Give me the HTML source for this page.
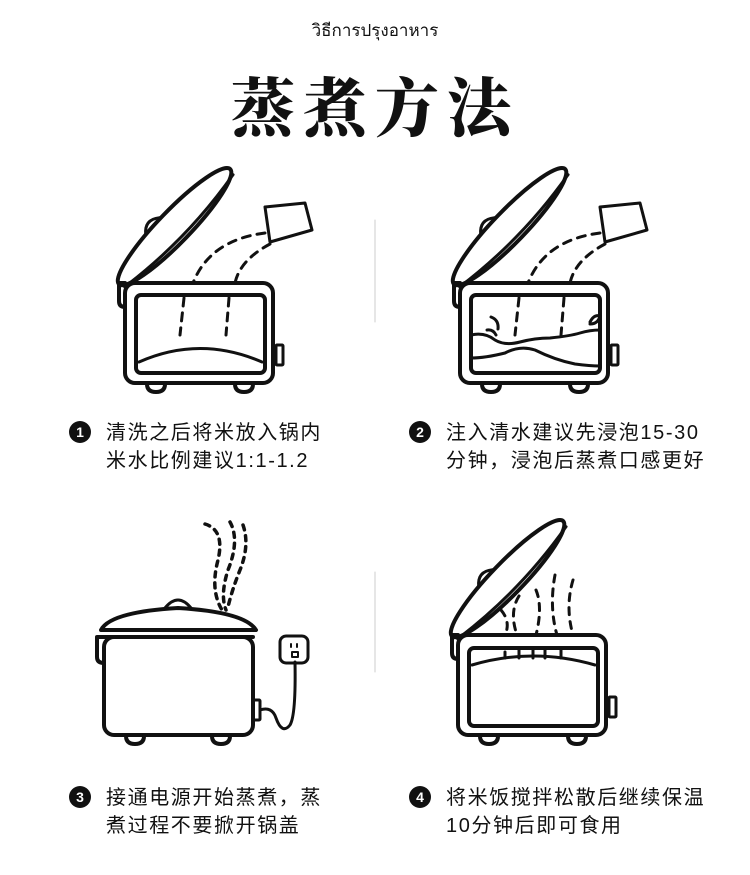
<!DOCTYPE html>
<html><head><meta charset="utf-8"><style>
html,body{margin:0;padding:0;background:#fff;}
body{width:750px;height:875px;position:relative;overflow:hidden;font-family:"Liberation Sans","Noto Sans CJK SC",sans-serif;color:#111;}
.t{position:absolute;font-size:20px;letter-spacing:1.6px;line-height:28px;white-space:nowrap;}
.n{position:absolute;width:22px;height:22px;border-radius:50%;background:#111;color:#fff;font-size:14px;font-weight:bold;text-align:center;line-height:22px;}
</style></head><body>
<div style="position:absolute;top:17px;left:0;width:750px;text-align:center;font-size:17px;font-family:'Liberation Sans','DejaVu Sans',sans-serif;">วิธีการปรุงอาหาร</div>
<div style="position:absolute;top:58px;left:0;width:750px;text-align:center;font-size:64px;font-weight:900;letter-spacing:8px;font-family:'Noto Serif CJK SC','Noto Sans CJK SC',serif;">蒸煮方法</div>

<svg width="750" height="875" style="position:absolute;left:0;top:0" fill="none" stroke="#111" stroke-width="4" stroke-linecap="round" stroke-linejoin="round">
<line x1="375" y1="220" x2="375" y2="322" stroke="#ccc" stroke-width="1"/>
<line x1="375" y1="572" x2="375" y2="672" stroke="#ccc" stroke-width="1"/>
<defs>
<g id="cooker">
 <path d="M125 283 h-6 v18 q0 6 6 6"/>
 <rect x="125" y="283" width="148" height="100" rx="10"/>
 <rect x="276" y="345" width="7" height="20" rx="1" stroke-width="3"/>
 <path d="M147 384 q0 8 9 8 q9 0 9 -8" />
 <path d="M235 384 q0 8 9 8 q9 0 9 -8" />
 <g transform="rotate(-46 176 228)">
  <ellipse cx="176" cy="226" rx="80" ry="16"/>
  <path d="M98 232 Q176 244 254 232" stroke-width="3"/>
  <path d="M150 211 q10 -12 22 -2" stroke-width="3"/>
 </g>
</g>
</defs>
<!-- panel 1 -->
<use href="#cooker"/>
<rect x="136" y="295" width="129" height="78" rx="5"/>
<path d="M139 362 Q200 335 262 362" stroke-width="3"/>
<polygon points="265,207 305,203 312,230 270,242" stroke-width="3"/>
<g stroke-dasharray="8 7" stroke-width="3">
<path d="M265 233 Q210 240 193 283"/>
<path d="M270 244 Q240 260 235 283"/>
<path d="M184 298 L180 335"/>
<path d="M229 298 L226 335"/>
</g>
<!-- panel 2 -->
<g transform="translate(335 0)">
<use href="#cooker"/>
<rect x="136" y="295" width="129" height="78" rx="5"/>
<polygon points="265,207 305,203 312,230 270,242" stroke-width="3"/>
<g stroke-dasharray="8 7" stroke-width="3">
<path d="M265 233 Q210 240 193 283"/>
<path d="M270 244 Q240 260 235 283"/>
<path d="M184 298 L180 335"/>
<path d="M229 298 L226 335"/>
</g>
<path d="M136 335 Q150 332 160 340 Q170 346 185 342 Q200 338 215 338 Q235 336 245 333 Q255 330 265 330" stroke-width="3"/>
<path d="M136 358 Q150 358 170 353 Q185 345 200 350 Q220 360 240 364 Q255 366 265 366" stroke-width="3"/>
<path d="M156 317 q8 3 7 12 M152 330 q6 -1 9 5 M255 322 q4 -8 10 -6 q-2 8 -10 8" stroke-width="3"/>
</g>
<!-- panel 3 -->
<path d="M104 637 h-7 v20 q0 6 7 6"/>
<rect x="104" y="637" width="149" height="98" rx="10"/>
<path d="M101 630 Q110 612 178 608 Q245 612 256 630 Z"/>
<line x1="104" y1="637" x2="253" y2="637"/>
<path d="M165 608 q13 -16 26 0" stroke-width="3"/>
<rect x="253" y="700" width="7" height="20" rx="1" stroke-width="3"/>
<path d="M126 736 q0 8 9 8 q9 0 9 -8 M212 736 q0 8 9 8 q9 0 9 -8"/>
<rect x="280" y="636" width="28" height="27" rx="6" stroke-width="3"/>
<path d="M291 644 v3 M297 644 v3 M292 652 h6 v5 h-6 z" stroke-width="2"/>
<path d="M260 710 Q272 706 276 718 Q282 735 290 725 Q296 715 295 662" stroke-width="3"/>
<g stroke-dasharray="5 6" stroke-width="3.5">
<path d="M205 524 Q225 530 218 560 Q210 590 222 610"/>
<path d="M230 522 Q240 540 228 570 Q220 595 226 610"/>
<path d="M243 525 Q250 545 240 570 Q232 590 228 607"/>
</g>
<!-- panel 4 -->
<g transform="translate(333 352)">
<use href="#cooker"/>
<rect x="136" y="296" width="129" height="78" rx="5"/>
<path d="M139 313 Q200 295 262 313" stroke-width="3"/>
<g stroke-dasharray="7 7" stroke-width="3">
<path d="M168 258 Q178 270 172 283"/>
<path d="M186 244 Q176 260 184 283"/>
<path d="M203 238 Q210 255 203 283"/>
<path d="M222 223 Q216 255 224 283"/>
<path d="M240 228 Q232 255 240 283"/>
<path d="M172 300 v6 M186 298 v8 M200 298 v8 M212 298 v8 M228 298 v8" stroke-dasharray="none"/>
</g>
</g>
</svg>

<div class="n" style="left:69px;top:421px;">1</div>
<div class="t" style="left:106px;top:419px;">清洗之后将米放入锅内<br>米水比例建议1:1-1.2</div>
<div class="n" style="left:409px;top:421px;">2</div>
<div class="t" style="left:446px;top:419px;">注入清水建议先浸泡15-30<br>分钟，浸泡后蒸煮口感更好</div>
<div class="n" style="left:69px;top:786px;">3</div>
<div class="t" style="left:106px;top:784px;">接通电源开始蒸煮，蒸<br>煮过程不要掀开锅盖</div>
<div class="n" style="left:409px;top:786px;">4</div>
<div class="t" style="left:446px;top:784px;">将米饭搅拌松散后继续保温<br>10分钟后即可食用</div>
</body></html>
